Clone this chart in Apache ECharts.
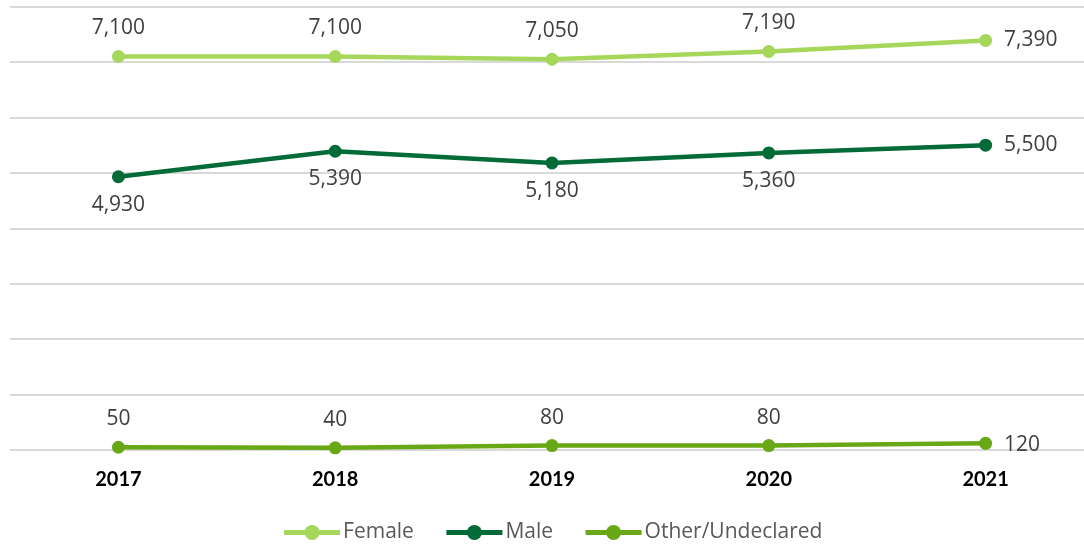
<!DOCTYPE html>
<html><head><meta charset="utf-8">
<script src="https://cdn.jsdelivr.net/npm/echarts@6/dist/echarts.min.js"></script>
<style>html,body{margin:0;padding:0;background:#fff;overflow:hidden}#c{width:1104px;height:546px}</style>
</head><body><div id="c"></div>
<script>
const years = ['2017','2018','2019','2020','2021'];
const female = [7100, 7100, 7050, 7190, 7390];
const male = [4930, 5390, 5180, 5360, 5500];
const other = [50, 40, 80, 80, 120];
const yTicks = {min: 0, max: 8000, interval: 1000};

const fmt = p => Number(p.value).toLocaleString('en-US');
const font = '"Open Sans", Lato, sans-serif';
function labelData(vals, posFn) {
  return vals.map((v, i) => ({value: v, label: posFn(i)}));
}
const lblBase = {show: true, formatter: fmt, color: '#404040', fontSize: 21, fontFamily: font};
function mk(name, vals, color, posFn) {
  return {
    name, type: 'line', data: labelData(vals, posFn), color,
    symbol: 'circle', symbolSize: 13, lineStyle: {width: 4.5, color},
    itemStyle: {color}, label: lblBase, animation: false
  };
}
const last = years.length - 1;
const chart = echarts.init(document.getElementById('c'));
chart.setOption({
  animation: false,
  grid: {left: 10, right: 10, top: 6.6, bottom: 96},
  xAxis: {type: 'category', data: years, axisLine: {show: false}, axisTick: {show: false},
    axisLabel: {color: '#000', fontWeight: 'bold', fontSize: 20, fontFamily: 'Lato, sans-serif', margin: 20}},
  yAxis: {type: 'value', min: yTicks.min, max: yTicks.max, interval: yTicks.interval,
    axisLabel: {show: false}, axisLine: {show: false}, axisTick: {show: false},
    splitLine: {lineStyle: {color: '#d9d9d9', width: 2}}},
  legend: {bottom: -2, left: 'center', itemWidth: 56, itemHeight: 19, itemGap: 30,
    lineStyle: {width: 5},
    textStyle: {color: '#595959', fontSize: 21, fontFamily: font, padding: [0,0,0,-2]}},
  series: [
    mk('Female', female, '#a6d75b', i => i === last ? {position: 'right', distance: 12} : {position: 'top', distance: 11}),
    mk('Male', male, '#036b38', i => i === last ? {position: 'right', distance: 12} : {position: 'bottom', distance: 11}),
    mk('Other/Undeclared', other, '#68a816', i => i === last ? {position: 'right', distance: 12, offset: [0, 2]} : {position: 'top', distance: 11})
  ]
});
</script></body></html>
